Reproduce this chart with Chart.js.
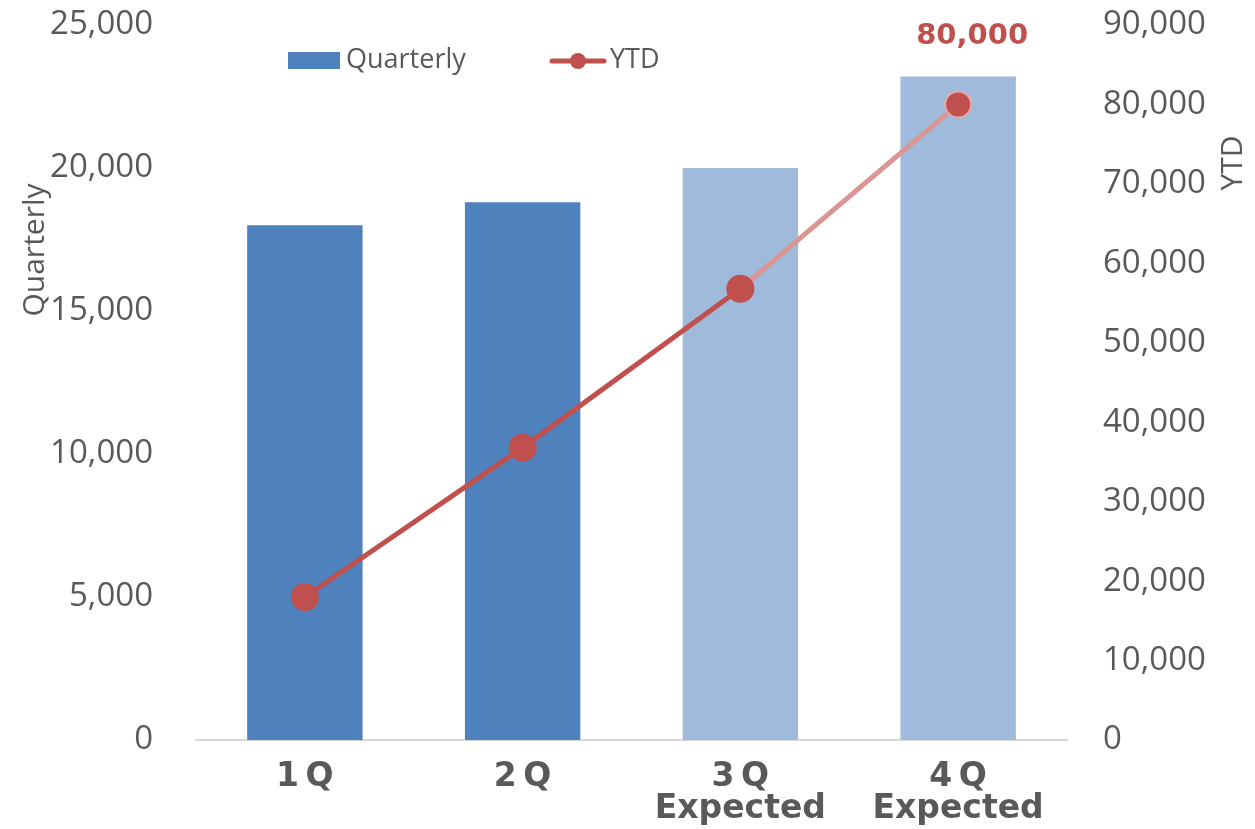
<!DOCTYPE html>
<html>
<head>
<meta charset="utf-8">
<script src="https://cdn.jsdelivr.net/npm/chart.js@4/dist/chart.umd.min.js"></script>
<style>
  html, body { margin: 0; padding: 0; background: #fff; }
  #wrap { width: 1255px; height: 829px; position: relative; }
</style>
</head>
<body>
<div id="wrap"><canvas id="chart"></canvas></div>
<script>
// data
const categories = [['1\u2009Q'], ['2\u2009Q'], ['3\u2009Q', 'Expected'], ['4\u2009Q', 'Expected']];
const quarterly = [18000, 18800, 20000, 23200];
const ytd = [18000, 36800, 56800, 80000];
const leftMax = 25000, leftStep = 5000;
const rightMax = 90000, rightStep = 10000;

const GRAY = '#595959';
const RED = '#C0504D';
const RED_LIGHT = '#D99694';
const BLUE = '#4F81BD';
const BLUE_LIGHT = '#9FBADA';

const fmt = v => v.toLocaleString('en-US');

// legend + axis titles + data label drawn by hand so they sit where the original has them
const extras = {
  id: 'extras',
  afterDraw(chart) {
    const c = chart.ctx;
    c.save();
    // legend
    c.font = '27px "Open Sans"';
    c.fillStyle = BLUE;
    c.fillRect(288, 52, 52, 17);
    c.fillStyle = GRAY;
    c.textBaseline = 'middle';
    c.textAlign = 'left';
    c.fillText('Quarterly', 346, 60);
    c.strokeStyle = RED;
    c.lineWidth = 5;
    c.lineCap = 'round';
    c.beginPath(); c.moveTo(552, 61); c.lineTo(604, 61); c.stroke();
    c.fillStyle = RED;
    c.beginPath(); c.arc(578, 61, 8, 0, Math.PI * 2); c.fill();
    c.fillStyle = GRAY;
    c.fillText('YTD', 610, 60);

    // axis titles
    c.font = '30px "Open Sans"';
    c.textAlign = 'center';
    c.save(); c.translate(35, 250); c.rotate(-Math.PI / 2); c.fillText('Quarterly', 0, 0); c.restore();
    c.save(); c.translate(1233, 163); c.rotate(-Math.PI / 2); c.fillText('YTD', 0, 0); c.restore();

    // label on the last YTD point
    const meta = chart.getDatasetMeta(0);
    const last = meta.data[meta.data.length - 1];
    c.font = 'bold 29px "DejaVu Sans"';
    c.fillStyle = RED;
    c.fillText(fmt(ytd[ytd.length - 1]), last.x + 14, last.y - 68);
    c.restore();
  }
};

const noPad = s => { s.paddingTop = 0; s.paddingBottom = 0; };

new Chart(document.getElementById('chart'), {
  data: {
    labels: categories,
    datasets: [
      {
        type: 'line',
        label: 'YTD',
        data: ytd,
        yAxisID: 'y1',
        borderColor: RED,
        borderWidth: 5,
        segment: {
          borderColor: ctx => ctx.p0DataIndex >= 2 ? RED_LIGHT : RED
        },
        pointRadius: 13,
        pointBackgroundColor: RED,
        pointBorderColor: [RED, RED, RED, '#E8A9A7'],
        pointBorderWidth: 2,
        order: 0
      },
      {
        type: 'bar',
        label: 'Quarterly',
        data: quarterly,
        yAxisID: 'y',
        backgroundColor: [BLUE, BLUE, BLUE_LIGHT, BLUE_LIGHT],
        categoryPercentage: 1,
        barPercentage: 0.53,
        order: 1
      }
    ]
  },
  options: {
    responsive: true,
    maintainAspectRatio: false,
    animation: false,
    layout: { padding: { top: 25, left: 0, right: 0, bottom: 0 } },
    plugins: {
      legend: { display: false },
      tooltip: { enabled: false }
    },
    scales: {
      x: {
        grid: { display: false, drawTicks: false },
        border: { color: '#D9D9D9', width: 2 },
        ticks: {
          color: GRAY,
          font: { family: '"DejaVu Sans"', weight: 'bold', size: 33, lineHeight: 0.97 },
          padding: 21,
          maxRotation: 0
        },
        afterFit: s => { s.height = 89; }
      },
      y: {
        position: 'left',
        min: 0,
        max: leftMax,
        grid: { display: false, drawTicks: false },
        border: { display: false },
        ticks: {
          stepSize: leftStep,
          color: GRAY,
          font: { family: '"Open Sans"', size: 33 },
          padding: 43,
          callback: v => fmt(v)
        },
        afterFit: s => { s.width = 196; noPad(s); }
      },
      y1: {
        position: 'right',
        min: 0,
        max: rightMax,
        grid: { display: false, drawTicks: false },
        border: { display: false },
        ticks: {
          stepSize: rightStep,
          color: GRAY,
          font: { family: '"Open Sans"', size: 33 },
          padding: 36,
          callback: v => fmt(v)
        },
        afterFit: s => { s.width = 188; noPad(s); }
      }
    }
  },
  plugins: [extras]
});
</script>
</body>
</html>
